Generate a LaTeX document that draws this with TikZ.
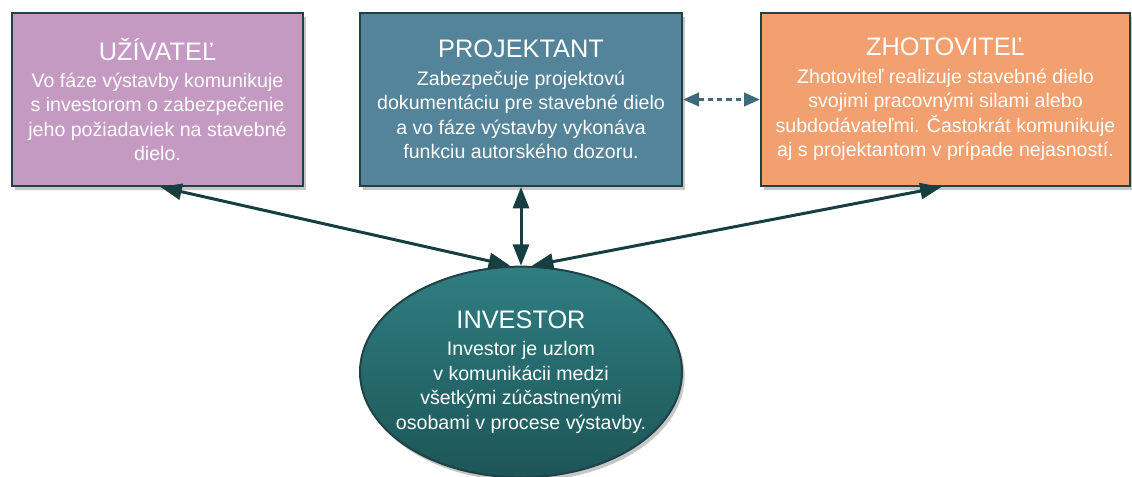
\documentclass[tikz,border=0pt]{standalone}
\usepackage{fontspec}
\setmainfont{Liberation Sans}
\usetikzlibrary{shapes.geometric,shadows,arrows.meta,calc}

\definecolor{uzifill}{HTML}{C49AC2}
\definecolor{projfill}{HTML}{53849A}
\definecolor{zhofill}{HTML}{F2A06F}
\definecolor{edgecol}{HTML}{1F4245}
\definecolor{invtop}{HTML}{2F7E81}
\definecolor{invbot}{HTML}{1D5557}
\definecolor{linkcol}{HTML}{173F40}
\definecolor{dashcol}{HTML}{3E6A7B}

\newcommand{\hdfont}{\fontsize{19}{22}\selectfont}
\newcommand{\txfont}{\fontsize{14.7}{18.4}\selectfont}

\tikzset{every picture/.style={line width=0.75pt}}
\tikzset{
  actor/.style={draw=edgecol, line width=1.5pt, text=white, align=center,
    minimum height=129.75pt, inner sep=0pt, font=\txfont,
    drop shadow={shadow xshift=2pt, shadow yshift=-3pt, opacity=0.45}},
  link/.style={draw=linkcol, line width=2.25pt,
    {Triangle[length=16pt,width=12pt]}-{Triangle[length=16pt,width=12pt]}},
  dashlink/.style={draw=dashcol, line width=2.25pt, dash pattern=on 4pt off 3pt,
    {Triangle[length=12pt,width=10pt]}-{Triangle[length=12pt,width=10pt]}},
}

\begin{document}
\begin{tikzpicture}[x=0.75pt,y=0.75pt,yscale=-1,xscale=1]
        \useasboundingbox (0,0) rectangle (1132,477);

        %Shape: Rectangle [uzivatel]
        \node[actor, fill=uzifill, minimum width=218.25pt] (uzi) at (157.5,99.5)
          {{\hdfont UŽÍVATEĽ}\\[2pt]
           Vo fáze výstavby komunikuje\\
           s investorom o zabezpečenie\\
           jeho požiadaviek na stavebné\\
           dielo.};
        %Shape: Rectangle [projektant]
        \node[actor, fill=projfill, minimum width=241.5pt] (proj) at (521,99.5)
          {{\hdfont PROJEKTANT}\\[2pt]
           Zabezpečuje projektovú\\
           dokumentáciu pre stavebné dielo\\
           a vo fáze výstavby vykonáva\\
           funkciu autorského dozoru.};
        %Shape: Rectangle [zhotovitel]
        \node[actor, fill=zhofill, minimum width=276.75pt] (zho) at (945.5,99.5)
          {{\hdfont ZHOTOVITEĽ}\\[2pt]
           Zhotoviteľ realizuje stavebné dielo\\
           svojimi pracovnými silami alebo\\
           subdodávateľmi. Častokrát komunikuje\\
           aj s projektantom v prípade nejasností.};
        %Shape: Ellipse [investor]
        \node[actor, ellipse, top color=invtop, bottom color=invbot,
          inner xsep=-12pt, inner ysep=-8pt,
          minimum width=241.5pt, minimum height=158pt] (inv) at (521,372)
          {{\hdfont INVESTOR}\\[2pt]
           Investor je uzlom\\
           v komunikácii medzi\\
           všetkými zúčastnenými\\
           osobami v procese výstavby.};

        %Straight Lines [links]
        \draw[link] ($(inv.north)+(-11,0)$) -- ($(uzi.south)+(3,0)$);
        \draw[link] (inv.north) -- (proj.south);
        \draw[link] ($(inv.north)+(11,0)$) -- ($(zho.south)+(-4,0)$);
        %Straight Lines [dashed]
        \draw[dashlink] (proj.east) -- (zho.west);

\end{tikzpicture}
\end{document}
